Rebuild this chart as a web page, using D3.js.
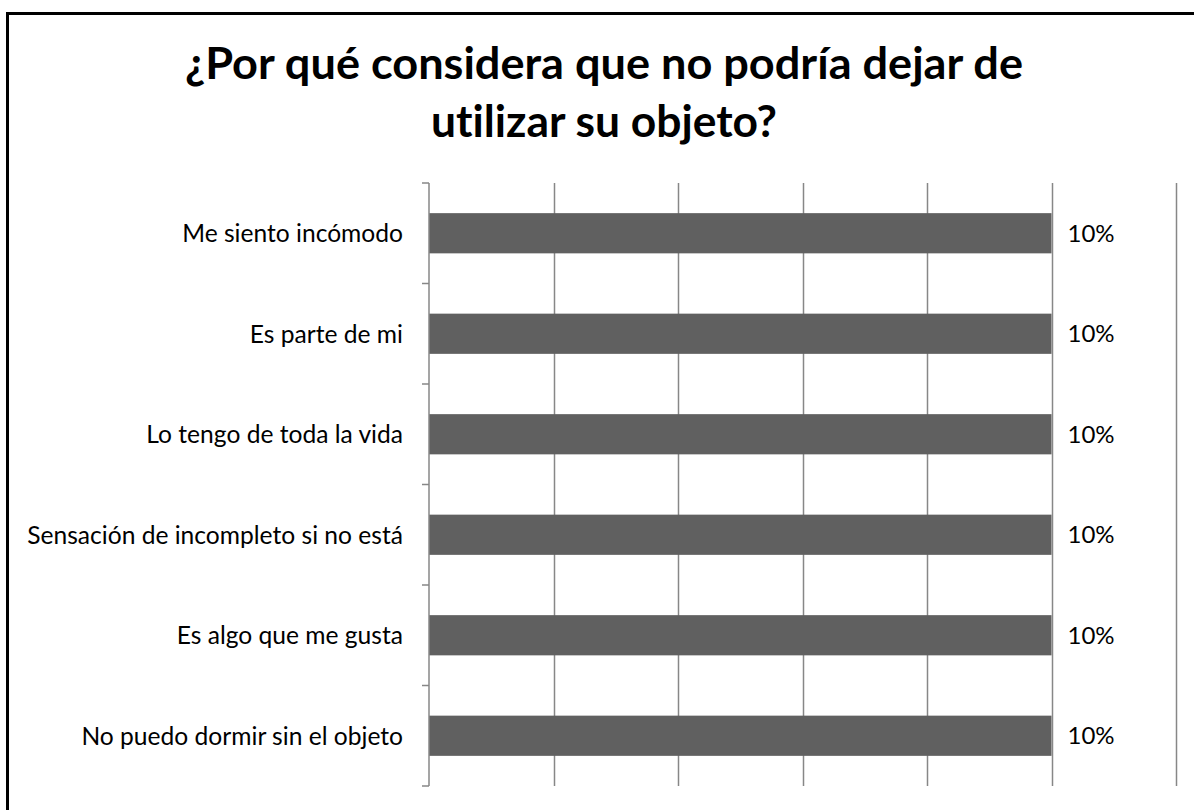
<!DOCTYPE html>
<html>
<head>
<meta charset="utf-8">
<script src="https://cdn.jsdelivr.net/npm/d3@7"></script>
<style>
  html, body { margin: 0; padding: 0; background: #fff; overflow: hidden; }
  svg { display: block; }
  text { font-variant-ligatures: none; font-feature-settings: "liga" 0, "clig" 0; }
</style>
</head>
<body>
<svg id="chart" width="1194" height="810"></svg>
<script>
const titleLines = ["¿Por qué considera que no podría dejar de", "utilizar su objeto?"];
const categories = [
  "Me siento incómodo",
  "Es parte de mi",
  "Lo tengo de toda la vida",
  "Sensación de incompleto si no está",
  "Es algo que me gusta",
  "No puedo dormir sin el objeto"
];
const values = [0.10, 0.10, 0.10, 0.10, 0.10, 0.10];
const gridTicks = [0.02, 0.04, 0.06, 0.08, 0.10, 0.12];

const svg = d3.select("#chart");
const font = "Lato, 'Open Sans', sans-serif";

// frame
svg.append("rect")
  .attr("x", 7.5).attr("y", 13.5)
  .attr("width", 1300).attr("height", 900)
  .attr("fill", "#fff").attr("stroke", "#000").attr("stroke-width", 3);

// title
const titleBaselines = [79, 137];
const titleWidths = [838, 346];
svg.append("g").selectAll("text").data(titleLines).join("text")
  .attr("x", 604).attr("y", (d, i) => titleBaselines[i])
  .attr("text-anchor", "middle")
  .attr("font-family", font).attr("font-weight", "bold").attr("font-size", 43)
  .attr("fill", "#000")
  .attr("textLength", (d, i) => titleWidths[i])
  .attr("lengthAdjust", "spacingAndGlyphs")
  .text(d => d);

const x = d3.scaleLinear().domain([0, 0.12]).range([429, 1176]);
const y = d3.scaleBand().domain(categories).range([183, 786])
  .paddingInner(0.6).paddingOuter(0.3);

const gridColor = "#878787";

// gridlines
svg.append("g").selectAll("line").data(gridTicks).join("line")
  .attr("x1", d => Math.round(x(d)) + 0.5).attr("x2", d => Math.round(x(d)) + 0.5)
  .attr("y1", y.range()[0]).attr("y2", y.range()[1])
  .attr("stroke", gridColor).attr("stroke-width", 1.5);

// bars
svg.append("g").selectAll("rect").data(categories).join("rect")
  .attr("x", x(0))
  .attr("y", d => y(d))
  .attr("width", (d, i) => x(values[i]) - x(0))
  .attr("height", y.bandwidth())
  .attr("fill", "#606060");

// y axis line and boundary ticks
const step = y.step();
const boundaries = categories.map(d => y(d) - y.paddingOuter() * step).concat([y.range()[1]]);
const axisG = svg.append("g");
axisG.append("line")
  .attr("x1", x(0)).attr("x2", x(0))
  .attr("y1", y.range()[0]).attr("y2", y.range()[1])
  .attr("stroke", gridColor).attr("stroke-width", 1.5);
axisG.selectAll("line.tick").data(boundaries).join("line")
  .attr("class", "tick")
  .attr("x1", x(0) - 7).attr("x2", x(0))
  .attr("y1", d => d).attr("y2", d => d)
  .attr("stroke", gridColor).attr("stroke-width", 1.5);

// category labels
svg.append("g").selectAll("text").data(categories).join("text")
  .attr("x", 403)
  .attr("y", d => y(d) + y.bandwidth() / 2)
  .attr("dy", "0.36em")
  .attr("text-anchor", "end")
  .attr("font-family", font).attr("font-size", 24.6)
  .attr("fill", "#000")
  .text(d => d);

// value labels
svg.append("g").selectAll("text").data(categories).join("text")
  .attr("x", (d, i) => x(values[i]) + 16)
  .attr("y", d => y(d) + y.bandwidth() / 2)
  .attr("dy", "0.36em")
  .attr("font-family", font).attr("font-size", 24)
  .attr("fill", "#000")
  .text((d, i) => Math.round(values[i] * 100) + "%");
</script>
</body>
</html>
